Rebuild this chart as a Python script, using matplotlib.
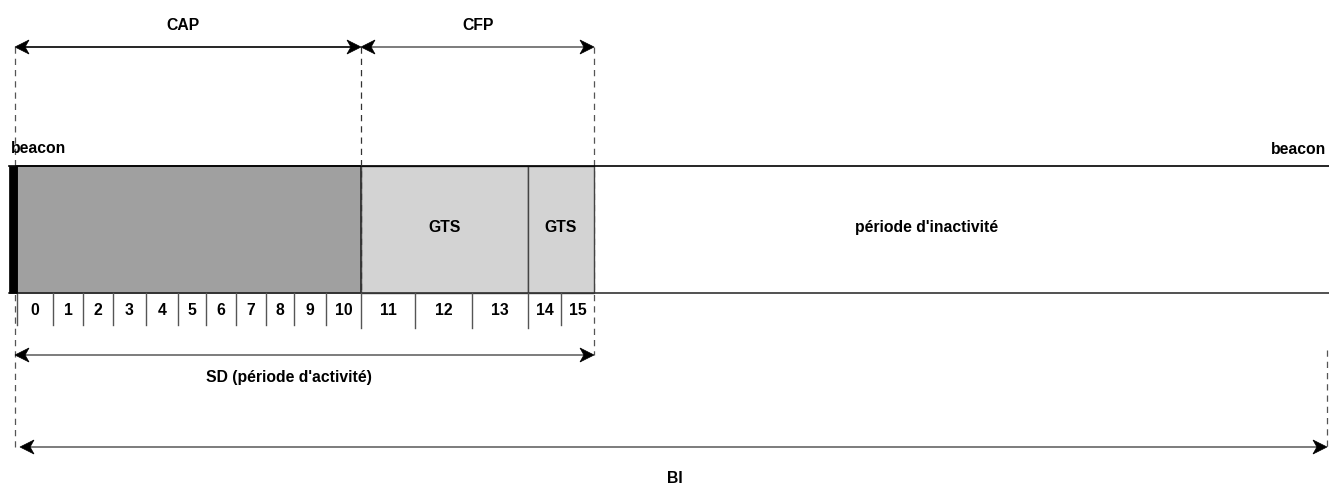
import matplotlib
matplotlib.use("Agg")
import matplotlib.pyplot as plt
from matplotlib.patches import Rectangle, Polygon

plt.rcParams['font.family'] = ['Liberation Sans', 'DejaVu Sans']

# ---- data (diagram coordinates, pixel-like time axis) ----
slot_edges = [17, 53, 83, 113, 146, 178, 206, 236, 266, 294, 326, 361, 415, 472, 528, 561, 594]
slot_labels = [str(i) for i in range(16)]
beacon_start = 9
bi_end = 1329
gts_edges = [361, 528, 594]
gts_labels = ["GTS", "GTS"]
period_labels = ["CAP", "CFP"]
sd_label = "SD (période d'activité)"
bi_label = "BI"
inactive_label = "période d'inactivité"
beacon_label = "beacon"

W, H = 1329, 486
fig = plt.figure(figsize=(W / 100, H / 100), dpi=100)
ax = fig.add_axes([0, 0, 1, 1])
ax.set_xlim(0, W)
ax.set_ylim(H, 0)
ax.axis('off')

FS = 11.3
tkw = dict(fontsize=FS, fontweight='bold', color='black')

bar_top, bar_bot = 166, 293
cap_start = slot_edges[0]
cap_end = slot_edges[11]
sd_end = slot_edges[-1]


def arrowhead(x, y, direction, color='black', L=14, Wd=7):
    d = direction
    pts = [(x, y), (x - d * L, y - Wd), (x - d * 0.72 * L, y), (x - d * L, y + Wd)]
    ax.add_patch(Polygon(pts, closed=True, facecolor='black', edgecolor='black', lw=0.5, zorder=6))


def double_arrow(x0, x1, y, color='black', lw=1.2):
    ax.plot([x0 + 6, x1 - 6], [y, y], color=color, lw=lw, zorder=5, solid_capstyle='butt')
    arrowhead(x0, y, -1)
    arrowhead(x1, y, 1)


# horizontal frame lines
ax.plot([beacon_start, bi_end], [bar_top, bar_top], color='black', lw=1.2, zorder=3)
ax.plot([beacon_start, bi_end], [bar_bot, bar_bot], color='#333333', lw=1.2, zorder=3)

# CAP box
ax.add_patch(Rectangle((cap_start, bar_top), cap_end - cap_start, bar_bot - bar_top,
                       facecolor='#a0a0a0', edgecolor='#222222', lw=1.2, zorder=2))
# GTS boxes
for i, lab in enumerate(gts_labels):
    x0, x1 = gts_edges[i], gts_edges[i + 1]
    ax.add_patch(Rectangle((x0, bar_top), x1 - x0, bar_bot - bar_top,
                           facecolor='#d3d3d3', edgecolor='#444444', lw=1.0, zorder=2))
    ax.text((x0 + x1) / 2, 227, lab, ha='center', va='center', **tkw)

# beacon bar
ax.add_patch(Rectangle((beacon_start, bar_top), cap_start - beacon_start, bar_bot - bar_top,
                       facecolor='black', edgecolor='black', lw=0.5, zorder=4))

# slot ticks and labels
for i, e in enumerate(slot_edges[:-1]):
    bottom = 328 if 11 <= i <= 14 else 325
    ax.plot([e, e], [bar_bot, bottom], color='#555555', lw=1.0, zorder=3)
for i, lab in enumerate(slot_labels):
    cx = (slot_edges[i] + slot_edges[i + 1]) / 2
    ax.text(cx, 310, lab, ha='center', va='center', **tkw)

# dashed guide lines
dkw = dict(color='#555555', lw=0.9, ls=(0, (5, 4)), zorder=1)
ax.plot([15, 15], [47, 447], **dkw)
ax.plot([cap_end, cap_end], [47, bar_bot], **dict(dkw, zorder=5, color='#333333'))
ax.plot([sd_end, sd_end], [47, 355], **dkw)
ax.plot([bi_end - 2, bi_end - 2], [350, 447], **dkw)

# arrows
double_arrow(15, cap_end, 47, color='black')
double_arrow(cap_end, sd_end, 47, color='#666666')
double_arrow(15, sd_end, 355, color='#666666')
double_arrow(20, bi_end - 2, 447, color='#666666')

# texts
ax.text(183, 25, period_labels[0], ha='center', va='center', **tkw)
ax.text(478, 25, period_labels[1], ha='center', va='center', **tkw)
ax.text(beacon_start + 2, 148, beacon_label, ha='left', va='center', **tkw)
ax.text(bi_end - 3, 149, beacon_label, ha='right', va='center', **tkw)
ax.text(927, 227, inactive_label, ha='center', va='center', **tkw)
ax.text(289, 377, sd_label, ha='center', va='center', **tkw)
ax.text(675, 478, bi_label, ha='center', va='center', **tkw)

fig.savefig('out.png', dpi=100)
